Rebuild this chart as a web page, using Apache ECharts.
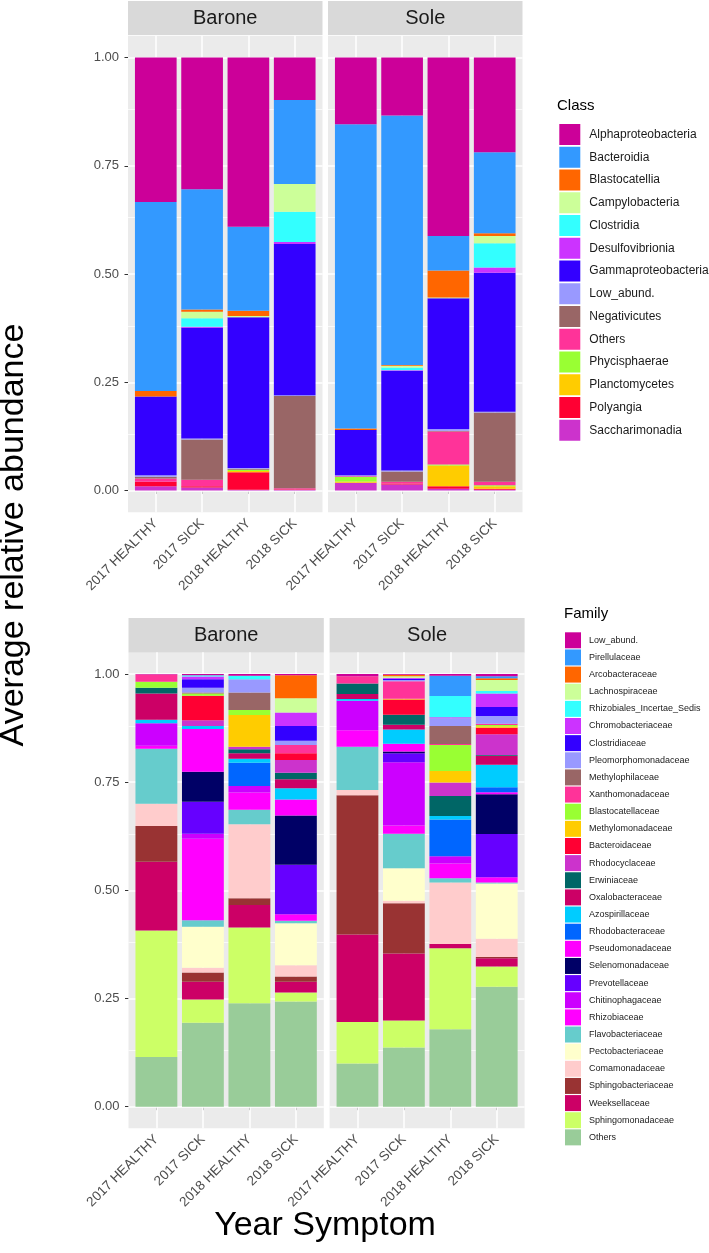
<!DOCTYPE html>
<html><head><meta charset="utf-8">
<script src="https://cdn.jsdelivr.net/npm/echarts@6/dist/echarts.min.js"></script>
<style>html,body{margin:0;padding:0;background:#fff}#c{width:709px;height:1253px}</style>
</head><body><div id="c"></div><script>
const FONT = '"Liberation Sans", Arial, sans-serif';
const xLabels = ['2017 HEALTHY', '2017 SICK', '2018 HEALTHY', '2018 SICK'];
const facetNames = ['Barone', 'Sole'];

// ---- Class (legend order, top of stack first) ----
const classNames = ['Alphaproteobacteria','Bacteroidia','Blastocatellia','Campylobacteria','Clostridia','Desulfovibrionia','Gammaproteobacteria','Low_abund.','Negativicutes','Others','Phycisphaerae','Planctomycetes','Polyangia','Saccharimonadia'];
const classColors = ['#CC0099','#3399FF','#FF6600','#CCFF99','#33FFFF','#CC33FF','#3300FF','#9999FF','#996666','#FF3399','#99FF33','#FFCC00','#FF0033','#CC33CC'];
const classBarone2017H = [0.334,0.436,0.013,0,0,0,0.182,0.003,0.004,0.008,0,0,0.010,0.010];
const classBarone2017S = [0.304,0.278,0.005,0.015,0.020,0.002,0.256,0.002,0.093,0.015,0,0,0.003,0.007];
const classBarone2018H = [0.391,0.194,0.012,0.003,0,0,0.348,0.002,0.002,0,0.003,0.003,0.040,0.002];
const classBarone2018S = [0.098,0.194,0,0.064,0.070,0.005,0.349,0.002,0.213,0.002,0,0,0.001,0.002];
const classSole2017H = [0.154,0.703,0.003,0,0,0,0.105,0.002,0,0.002,0.010,0.003,0,0.018];
const classSole2017S = [0.134,0.576,0.002,0.004,0.006,0.002,0.230,0.002,0.024,0.004,0,0,0.002,0.014];
const classSole2018H = [0.412,0.080,0.062,0.002,0,0,0.302,0.004,0.002,0.076,0.002,0.048,0.006,0.004];
const classSole2018S = [0.219,0.187,0.006,0.017,0.056,0.012,0.321,0.002,0.160,0.008,0.002,0.006,0.002,0.002];

// ---- Family (legend order, top of stack first) ----
const familyNames = ['Low_abund.','Pirellulaceae','Arcobacteraceae','Lachnospiraceae','Rhizobiales_Incertae_Sedis','Chromobacteriaceae','Clostridiaceae','Pleomorphomonadaceae','Methylophilaceae','Xanthomonadaceae','Blastocatellaceae','Methylomonadaceae','Bacteroidaceae','Rhodocyclaceae','Erwiniaceae','Oxalobacteraceae','Azospirillaceae','Rhodobacteraceae','Pseudomonadaceae','Selenomonadaceae','Prevotellaceae','Chitinophagaceae','Rhizobiaceae','Flavobacteriaceae','Pectobacteriaceae','Comamonadaceae','Sphingobacteriaceae','Weeksellaceae','Sphingomonadaceae','Others'];
const familyColors = ['#CC0099','#3399FF','#FF6600','#CCFF99','#33FFFF','#CC33FF','#3300FF','#9999FF','#996666','#FF3399','#99FF33','#FFCC00','#FF0033','#CC33CC','#006666','#CC0066','#00CCFF','#0066FF','#FF00FF','#000066','#6600FF','#CC00FF','#FF00FF','#66CCCC','#FFFFCC','#FFCCCC','#993333','#CC0066','#CCFF66','#99CC99'];
const familyBarone2017H = [0.001,0,0,0,0,0,0,0,0,0.017,0.014,0,0,0,0.013,0.061,0.008,0,0,0,0,0.052,0.007,0.127,0,0.051,0.083,0.159,0.292,0.115];
const familyBarone2017S = [0.003,0,0,0,0.003,0.006,0.020,0.011,0.002,0,0.005,0,0.057,0.013,0,0,0.007,0,0.099,0.069,0.074,0.012,0.188,0.015,0.095,0.011,0.021,0.041,0.054,0.194];
const familyBarone2018H = [0.004,0,0,0,0.008,0,0,0.031,0.040,0,0.012,0.073,0,0.006,0.009,0.013,0.009,0.054,0,0,0,0.015,0.040,0.033,0,0.171,0.016,0.052,0.175,0.239];
const familyBarone2018S = [0.003,0,0.053,0.033,0,0.031,0.034,0.010,0,0.019,0,0,0.016,0.029,0.015,0.021,0.026,0,0.037,0.114,0.114,0,0.015,0.006,0.097,0.026,0.012,0.025,0.021,0.243];
const familySole2017H = [0.005,0,0,0,0,0,0,0,0,0.017,0,0,0,0,0.024,0.012,0.004,0,0,0,0,0.068,0.038,0.100,0,0.012,0.322,0.202,0.096,0.100];
const familySole2017S = [0.002,0,0.003,0.004,0,0.002,0.003,0.003,0,0.040,0,0.002,0.035,0,0.023,0.011,0.033,0,0.018,0.004,0.021,0.146,0.019,0.080,0.075,0.006,0.116,0.155,0.062,0.137];
const familySole2018H = [0.004,0.047,0,0,0.049,0.002,0,0.018,0.042,0.002,0.060,0.027,0,0.031,0.046,0,0.008,0.085,0,0,0,0.017,0.034,0.010,0,0.142,0,0.010,0.187,0.179];
const familySole2018S = [0.005,0.005,0.004,0.025,0.006,0.031,0.021,0.018,0,0.003,0.003,0.003,0.015,0.048,0.002,0.021,0.052,0.011,0.005,0.092,0.100,0,0.012,0.002,0.128,0.042,0.003,0.019,0.047,0.277];

const yTicks = [0, 0.25, 0.5, 0.75, 1];
const yMinor = [0.125, 0.375, 0.625, 0.875];

const facets = [
  {strip: facetNames[0], left: 128, width: 194.5, top1: 57.5, unit: 433, stripTop: 1, stripH: 34,
   names: classNames, colors: classColors, prefix: '', showY: true,
   cols: [classBarone2017H, classBarone2017S, classBarone2018H, classBarone2018S]},
  {strip: facetNames[1], left: 328, width: 194.5, top1: 57.5, unit: 433, stripTop: 1, stripH: 34,
   names: classNames, colors: classColors, prefix: '', showY: false,
   cols: [classSole2017H, classSole2017S, classSole2018H, classSole2018S]},
  {strip: facetNames[0], left: 128.5, width: 195.3, top1: 674, unit: 432.7, stripTop: 618, stripH: 34.4,
   names: familyNames, colors: familyColors, prefix: 'Family|', showY: true,
   cols: [familyBarone2017H, familyBarone2017S, familyBarone2018H, familyBarone2018S]},
  {strip: facetNames[1], left: 329.6, width: 195, top1: 674, unit: 432.7, stripTop: 618, stripH: 34.4,
   names: familyNames, colors: familyColors, prefix: 'Family|', showY: false,
   cols: [familySole2017H, familySole2017S, familySole2018H, familySole2018S]}
];

const grid = [], xAxis = [], yAxis = [], series = [], graphic = [];
facets.forEach((f, i) => {
  const a = 2 * i, b = 2 * i + 1;
  const pad = f.width * 0.1 / 4.2;
  grid.push({left: f.left, top: f.top1 - 0.05 * f.unit, width: f.width, height: 1.1 * f.unit,
             show: true, backgroundColor: '#EBEBEB', borderWidth: 0, z: 0});
  grid.push({left: f.left + pad, top: f.top1, width: f.width * 4 / 4.2, height: f.unit, show: false});
  xAxis.push({type: 'value', gridIndex: a, min: 0.4, max: 4.6, show: false});
  yAxis.push({type: 'value', gridIndex: a, min: -0.05, max: 1.05, show: false});
  xAxis.push({type: 'category', gridIndex: b, data: xLabels, offset: 0.05 * f.unit,
    axisLine: {show: false},
    axisTick: {show: true, alignWithLabel: true, length: 3.5, lineStyle: {color: '#333333', width: 1}},
    axisLabel: {rotate: 45, fontSize: 13.5, color: '#4D4D4D', margin: 9, fontFamily: FONT, interval: 0},
    splitLine: {show: false}});
  yAxis.push({type: 'value', gridIndex: b, min: 0, max: 1, interval: 0.25, offset: pad, show: f.showY,
    axisLine: {show: false},
    axisTick: {show: true, length: 3.5, lineStyle: {color: '#333333', width: 1}},
    axisLabel: {fontSize: 13, color: '#4D4D4D', margin: 9, fontFamily: FONT, formatter: v => v.toFixed(2)},
    splitLine: {show: false}});
  // panel grid lines
  const ml = [];
  [1, 2, 3, 4].forEach(v => ml.push({xAxis: v}));
  yTicks.forEach(v => ml.push({yAxis: v}));
  yMinor.forEach(v => ml.push({yAxis: v, lineStyle: {width: 0.7}}));
  series.push({type: 'line', xAxisIndex: a, yAxisIndex: a, data: [], silent: true, z: 1,
    markLine: {silent: true, symbol: ['none', 'none'], label: {show: false}, animation: false, z: 1,
      lineStyle: {color: '#FFFFFF', width: 1.5, type: 'solid'}, emphasis: {disabled: true}, data: ml}});
  // stacked bars, bottom of stack first
  for (let k = f.names.length - 1; k >= 0; k--) {
    series.push({type: 'bar', name: f.prefix + f.names[k], xAxisIndex: b, yAxisIndex: b,
      stack: 'facet' + i, barWidth: '90%', z: 3, silent: true,
      itemStyle: {color: f.colors[k]},
      data: f.cols.map(c => c[k])});
  }
  // facet strip
  graphic.push({type: 'rect', silent: true, shape: {x: f.left, y: f.stripTop, width: f.width, height: f.stripH},
    style: {fill: '#D9D9D9'}});
  graphic.push({type: 'text', silent: true, x: f.left + f.width / 2, y: f.stripTop + f.stripH / 2 + 0.5,
    style: {text: f.strip, fontSize: 20, fontFamily: FONT, fill: '#1A1A1A', align: 'center', verticalAlign: 'middle'}});
});

graphic.push({type: 'text', silent: true, x: 557, y: 106,
  style: {text: 'Class', fontSize: 15, fontFamily: FONT, fill: '#000000', align: 'left', verticalAlign: 'middle'}});
graphic.push({type: 'text', silent: true, x: 564, y: 614.3,
  style: {text: 'Family', fontSize: 15, fontFamily: FONT, fill: '#000000', align: 'left', verticalAlign: 'middle'}});
graphic.push({type: 'text', silent: true, x: 14, y: 535, rotation: Math.PI / 2,
  style: {text: 'Average relative abundance', fontSize: 34, fontFamily: FONT, fill: '#000000', align: 'center', verticalAlign: 'middle'}});
graphic.push({type: 'text', silent: true, x: 325, y: 1226,
  style: {text: 'Year Symptom', fontSize: 34, fontFamily: FONT, fill: '#000000', align: 'center', verticalAlign: 'middle'}});

const legend = [
  {data: classNames, orient: 'vertical', left: 559.3, top: 124, itemWidth: 21, itemHeight: 21, itemGap: 1.75,
   icon: 'rect', padding: 0, selectedMode: false,
   textStyle: {fontSize: 12, color: '#1A1A1A', fontFamily: FONT, padding: [0, 0, 0, 4]}},
  {data: familyNames.map(n => 'Family|' + n), orient: 'vertical', left: 565, top: 632.3, itemWidth: 16, itemHeight: 16, itemGap: 1.14,
   icon: 'rect', padding: 0, selectedMode: false, formatter: n => n.split('|')[1],
   textStyle: {fontSize: 9, color: '#1A1A1A', fontFamily: FONT, padding: [0, 0, 0, 3]}}
];

const chart = echarts.init(document.getElementById('c'), null, {renderer: 'canvas'});
chart.setOption({animation: false, backgroundColor: '#FFFFFF', textStyle: {fontFamily: FONT},
  grid, xAxis, yAxis, series, legend, graphic});
</script></body></html>
